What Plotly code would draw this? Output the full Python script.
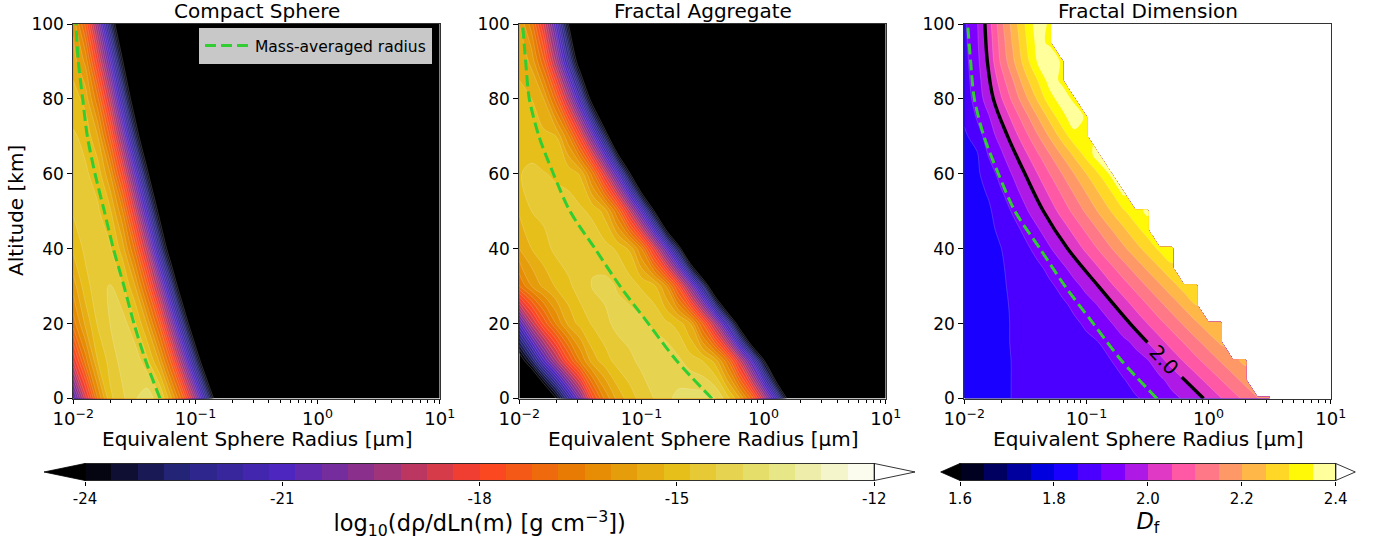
import numpy as np
import plotly.graph_objects as go

ALTITUDE_10 = [0, 10, 20, 30, 40, 50, 60, 70, 80, 90, 100]
ALTITUDE_5 = [0, 5, 10, 15, 20, 25, 30, 35, 40, 45, 50, 55, 60, 65, 70, 75, 80, 85, 90, 95, 100]

RADIUS_COMPACT = [0.01, 0.01259, 0.01585, 0.01995, 0.02512, 0.03162, 0.03981, 0.05012, 0.0631, 0.07943,
                  0.1, 0.1259, 0.1585, 0.1995, 0.3162, 10.0]
RADIUS_FRACTAL = [0.01, 0.01259, 0.01585, 0.01995, 0.02512, 0.03162, 0.03981, 0.05012, 0.0631, 0.07943,
                  0.1, 0.1259, 0.1585, 0.1995, 0.2512, 0.3162, 0.3981, 0.5012, 0.631, 0.7943,
                  1.0, 1.259, 1.585, 1.995, 2.512, 3.162, 10.0]
RADIUS_DF = RADIUS_FRACTAL[:-1]

COMPACT_Z = [
    [-21.0, -18.6, -16.4, -14.9, -14.5, -14.05, -13.75, -14.2, -15.5, -17.1, -19.5, -22.4, -25.7, -29, -36, -60],
    [-18.4, -16.6, -15.2, -14.65, -14.25, -14.1, -14.65, -15.6, -17.3, -19.8, -22.7, -26, -29.5, -33, -40, -60],
    [-16.6, -15.5, -14.75, -14.4, -14.2, -14.7, -15.6, -17.2, -19.7, -22.6, -25.9, -29.3, -32.8, -36, -42, -60],
    [-15.8, -14.95, -14.55, -14.37, -14.75, -15.5, -17.1, -19.4, -22.3, -25.6, -29, -32.5, -36, -39, -45, -60],
    [-15.1, -14.7, -14.55, -14.75, -15.35, -16.8, -19.0, -22.0, -25.1, -28.6, -32, -35.5, -39, -42, -48, -60],
    [-14.75, -14.6, -14.75, -15.1, -16.3, -18.5, -21.2, -24.3, -28, -31.5, -35, -38.5, -42, -45, -50, -60],
    [-14.65, -14.75, -14.95, -15.95, -17.9, -20.5, -23.5, -26.9, -30.4, -34, -37.5, -41, -44.5, -48, -52, -60],
    [-14.75, -14.9, -15.6, -17.3, -19.8, -22.8, -26, -29.5, -33, -36.5, -40, -43.5, -47, -50, -54, -60],
    [-15.0, -15.35, -16.7, -18.9, -21.8, -25, -28.5, -32, -35.5, -39, -42.5, -46, -49, -52, -56, -60],
    [-15.4, -16.1, -18.2, -20.7, -23.8, -27.3, -30.8, -34.3, -37.8, -41.3, -44.8, -48, -51, -54, -58, -60],
    [-15.7, -17.3, -19.8, -22.7, -25.9, -29.4, -32.9, -36.4, -39.9, -43.4, -46.9, -50, -53, -56, -59, -60],
]

FRACTAL_Z = [
    [-30, -28, -26, -24.1, -22, -20, -17.7, -16.3, -15.5, -15.0, -14.65, -14.4, -14.1, -13.9, -13.8, -13.8, -13.95, -14.6, -15.5, -16.9, -19.0, -21.3, -24.3, -28, -31.5, -35, -60],
    [-24.8, -23, -21, -19.3, -17.7, -16.4, -15.4, -15.0, -14.65, -14.5, -14.3, -14.0, -14.05, -14.3, -14.6, -14.8, -15.3, -16.6, -18.6, -20.9, -23.7, -27.1, -30.6, -34.1, -37.6, -41.1, -60],
    [-21, -19, -17.5, -16.4, -15.5, -15.05, -14.75, -14.5, -14.3, -14.2, -14.3, -14.5, -14.7, -14.95, -15.6, -17.2, -19.2, -21.6, -24.7, -28.2, -31.7, -35.2, -38.7, -42.2, -45.7, -49, -60],
    [-16.8, -16, -15.5, -15.15, -14.9, -14.6, -14.37, -14.3, -14.42, -14.6, -14.85, -15.05, -16.0, -17.7, -19.9, -22.4, -25.7, -29.2, -32.7, -36.2, -39.7, -43.2, -46.7, -50, -52, -54, -60],
    [-15.6, -15.2, -14.95, -14.7, -14.55, -14.5, -14.5, -14.65, -14.85, -15.25, -16.4, -18.3, -20.6, -23.2, -26.7, -30.2, -33.7, -37.2, -40.7, -44.2, -47.7, -50, -52, -54, -56, -57, -60],
    [-15.15, -14.8, -14.7, -14.65, -14.65, -14.72, -14.9, -15.35, -16.7, -18.7, -21, -23.8, -27.3, -30.8, -34.3, -37.8, -41.3, -44.8, -48, -50, -52, -54, -55, -56, -57, -58, -60],
    [-14.82, -14.72, -14.78, -14.85, -14.92, -15.25, -16.6, -18.6, -20.9, -23.7, -27.1, -30.6, -34.1, -37.6, -41.1, -44.6, -48, -50, -52, -54, -55, -56, -57, -58, -59, -59.5, -60],
    [-14.95, -15.0, -15.1, -15.2, -16.3, -18.1, -20.4, -23, -26.4, -29.9, -33.4, -36.9, -40.4, -43.9, -47.4, -50, -52, -54, -55, -56, -57, -58, -58.5, -59, -59.5, -59.7, -60],
    [-15.1, -15.2, -15.6, -17.0, -19.1, -21.6, -24.7, -28.2, -31.7, -35.2, -38.7, -42.2, -45.7, -49, -51, -53, -54.5, -55.5, -56.5, -57.5, -58, -58.5, -59, -59.3, -59.6, -59.8, -60],
    [-15.3, -15.7, -17.1, -19.3, -21.9, -25, -28.5, -32, -35.5, -39, -42.5, -46, -49, -51, -52.5, -54, -55, -56, -57, -57.5, -58, -58.5, -59, -59.3, -59.6, -59.8, -60],
    [-15.6, -16.6, -18.5, -20.9, -23.9, -27.4, -30.9, -34.4, -37.9, -41.4, -44.9, -48, -50, -52, -53.5, -55, -56, -56.5, -57, -57.5, -58, -58.5, -59, -59.3, -59.6, -59.8, -60],
]

# one list per altitude of ALTITUDE_5, ending where the reference's field ends
DF_ROWS = [
    [1.82, 1.825, 1.835, 1.845, 1.851, 1.856, 1.86, 1.865, 1.87, 1.874, 1.878, 1.883, 1.888, 1.892, 1.897, 1.905, 1.921, 1.937, 1.955, 1.983, 2.014, 2.047, 2.08, 2.113, 2.147, 2.18],
    [1.82, 1.825, 1.835, 1.845, 1.851, 1.856, 1.861, 1.866, 1.871, 1.876, 1.882, 1.887, 1.893, 1.898, 1.91, 1.925, 1.94, 1.967, 2.0, 2.033, 2.067, 2.1, 2.133, 2.167],
    [1.82, 1.825, 1.835, 1.845, 1.851, 1.858, 1.864, 1.87, 1.876, 1.881, 1.887, 1.893, 1.899, 1.913, 1.93, 1.945, 1.983, 2.02, 2.053, 2.087, 2.12, 2.153, 2.187, 2.21],
    [1.82, 1.825, 1.835, 1.845, 1.852, 1.859, 1.866, 1.873, 1.879, 1.886, 1.893, 1.9, 1.919, 1.937, 1.96, 2.0, 2.034, 2.069, 2.103, 2.138, 2.172, 2.207],
    [1.825, 1.83, 1.837, 1.845, 1.852, 1.86, 1.869, 1.877, 1.885, 1.894, 1.905, 1.925, 1.946, 1.979, 2.015, 2.05, 2.086, 2.121, 2.157, 2.193, 2.229, 2.24],
    [1.828, 1.833, 1.838, 1.845, 1.853, 1.863, 1.873, 1.883, 1.893, 1.907, 1.93, 1.953, 1.99, 2.026, 2.063, 2.1, 2.137, 2.174, 2.212, 2.25],
    [1.83, 1.835, 1.84, 1.846, 1.855, 1.868, 1.88, 1.893, 1.91, 1.935, 1.964, 2.0, 2.04, 2.077, 2.115, 2.154, 2.192, 2.231, 2.27, 2.29],
    [1.83, 1.836, 1.84, 1.846, 1.86, 1.876, 1.891, 1.912, 1.939, 1.973, 2.011, 2.05, 2.09, 2.13, 2.17, 2.21, 2.25, 2.29],
    [1.83, 1.835, 1.84, 1.849, 1.869, 1.889, 1.915, 1.945, 1.982, 2.021, 2.062, 2.104, 2.146, 2.188, 2.229, 2.27, 2.31, 2.33],
    [1.83, 1.835, 1.84, 1.859, 1.883, 1.911, 1.943, 1.981, 2.022, 2.065, 2.109, 2.152, 2.196, 2.239, 2.283, 2.32],
    [1.83, 1.836, 1.843, 1.874, 1.906, 1.941, 1.98, 2.023, 2.068, 2.114, 2.159, 2.205, 2.25, 2.292, 2.33, 2.36],
    [1.83, 1.835, 1.855, 1.894, 1.93, 1.969, 2.013, 2.06, 2.107, 2.155, 2.202, 2.25, 2.295, 2.36],
    [1.83, 1.84, 1.875, 1.918, 1.955, 2.001, 2.05, 2.1, 2.15, 2.2, 2.25, 2.3, 2.36],
    [1.83, 1.842, 1.904, 1.94, 1.987, 2.039, 2.092, 2.147, 2.203, 2.258, 2.316, 2.38],
    [1.84, 1.873, 1.926, 1.969, 2.026, 2.083, 2.144, 2.206, 2.269, 2.331, 2.34],
    [1.86, 1.902, 1.945, 2.003, 2.066, 2.13, 2.197, 2.263, 2.33, 2.38, 2.34],
    [1.87, 1.92, 1.976, 2.043, 2.114, 2.186, 2.257, 2.329, 2.375, 2.34],
    [1.878, 1.927, 1.992, 2.075, 2.15, 2.233, 2.3, 2.372, 2.34],
    [1.883, 1.933, 2.011, 2.108, 2.192, 2.275, 2.356, 2.39, 2.34],
    [1.887, 1.939, 2.02, 2.12, 2.208, 2.292, 2.367, 2.34],
    [1.89, 1.942, 2.028, 2.133, 2.222, 2.303, 2.38, 2.34],
]

MASS_RADIUS_COMPACT = [0.0513, 0.0392, 0.0314, 0.026, 0.02128, 0.01795, 0.01507, 0.01303, 0.01194, 0.01099, 0.01052]
MASS_RADIUS_FRACTAL = [0.378, 0.195, 0.114, 0.0668, 0.0417, 0.026, 0.01901, 0.01449, 0.01208, 0.01127, 0.01064]
DF2_ALTITUDE = [0, 5.7, None, 15, 20, 30, 40, 50, 60, 70, 80, 90, 100]
DF2_RADIUS = [0.91, 0.604, None, 0.316, 0.228, 0.1253, 0.0703, 0.0445, 0.0314, 0.02265, 0.0173, 0.01545, 0.01476]

X_TICKS = [0.01, 0.1, 1, 10]
X_TICK_TEXT = ["10<sup>\u22122</sup>", "10<sup>\u22121</sup>", "10<sup>0</sup>", "10<sup>1</sup>"]
X_MINOR = [m * d for d in (0.01, 0.1, 1) for m in range(2, 10)]
Y_TICKS = [0, 20, 40, 60, 80, 100]
RHO_TICKS = [-24, -21, -18, -15, -12]
DF_TICKS = [1.6, 1.8, 2.0, 2.2, 2.4]
TITLES = ["Compact Sphere", "Fractal Aggregate", "Fractal Dimension"]
X_TITLE = "Equivalent Sphere Radius [\u03bcm]"
Y_TITLE = "Altitude [km]"

W, H = 1385, 540
FONT = "DejaVu Sans"


def cmrmap(t):
    a = [0, .125, .25, .375, .5, .625, .75, .875, 1]
    r = np.interp(t, a, [0, .15, .3, .6, 1, .9, .9, .9, 1])
    g = np.interp(t, a, [0, .15, .15, .2, .25, .5, .75, .9, 1])
    b = np.interp(t, a, [0, .5, .75, .5, .15, 0, .1, .5, 1])
    return r, g, b


def gnuplot2(t):
    r = np.clip(t / 0.32 - 0.78125, 0, 1)
    g = np.clip(2 * t - 0.84, 0, 1)
    b = 4 * t if t < .25 else (1 if t < .42 else (-2 * t + 1.84 if t < .92 else t / 0.08 - 11.5))
    return r, g, float(np.clip(b, 0, 1))


def css(c):
    return "rgb(%d,%d,%d)" % tuple(int(round(255 * v)) for v in c)


def band_colors(cmap, n):
    return [css(cmap((k + .5) / n)) for k in range(n)]


def stops(colors):
    n = len(colors) - 1
    return [[k / n, c] for k, c in enumerate(colors)]


rho_bands = band_colors(cmrmap, 30)
df_bands = band_colors(gnuplot2, 16)
rho_scale = stops(["#000000"] + rho_bands + ["#ffffff"])
df_scale = stops(["#000000"] + df_bands + ["#ffffff"])

seam = dict(width=0.6, color="rgba(255,255,255,0.3)", smoothing=1)
df_seam = dict(width=0.5, color="rgba(255,255,255,0.35)", smoothing=1)
fig = go.Figure()

rho_contours = dict(start=-24, end=-12, size=0.4, coloring="fill", showlines=True)
df_contours = dict(start=1.6, end=2.4, size=0.05, coloring="fill", showlines=True)

fig.add_trace(go.Contour(x=RADIUS_COMPACT, y=ALTITUDE_10, z=COMPACT_Z, autocontour=False, contours=rho_contours,
                         colorscale=rho_scale, showscale=False, line=seam, xaxis="x", yaxis="y", hoverinfo="skip"))
fig.add_trace(go.Contour(x=RADIUS_FRACTAL, y=ALTITUDE_10, z=FRACTAL_Z, autocontour=False, contours=rho_contours,
                         colorscale=rho_scale, showscale=False, line=seam, xaxis="x2", yaxis="y2", hoverinfo="skip"))
df_z = [row + [None] * (len(RADIUS_DF) - len(row)) for row in DF_ROWS]
fig.add_trace(go.Contour(x=RADIUS_DF, y=ALTITUDE_5, z=df_z, autocontour=False, contours=df_contours, connectgaps=False,
                         colorscale=df_scale, showscale=False, line=df_seam, xaxis="x3", yaxis="y3", hoverinfo="skip"))

green = dict(color="#32cd32", width=3, dash="11px,5px", shape="spline", smoothing=0.8)
fig.add_trace(go.Scatter(x=MASS_RADIUS_COMPACT, y=ALTITUDE_10, mode="lines", line=green, name="Mass-averaged radius",
                         xaxis="x", yaxis="y", showlegend=True))
fig.add_trace(go.Scatter(x=MASS_RADIUS_FRACTAL, y=ALTITUDE_10, mode="lines", line=green, xaxis="x2", yaxis="y2", showlegend=False))
fig.add_trace(go.Scatter(x=MASS_RADIUS_FRACTAL, y=ALTITUDE_10, mode="lines", line=green, xaxis="x3", yaxis="y3", showlegend=False))
fig.add_trace(go.Scatter(x=DF2_RADIUS, y=DF2_ALTITUDE, mode="lines", xaxis="x3", yaxis="y3", showlegend=False,
                         line=dict(color="black", width=3.4, shape="spline", smoothing=1)))

rho_edges = [-24 + 0.4 * k for k in range(31)]
df_edges = [1.6 + 0.05 * k for k in range(17)]
fig.add_trace(go.Heatmap(x=rho_edges, y=[0, 1], z=[list(range(30))], zmin=0, zmax=29, showscale=False, xaxis="x4", yaxis="y4",
                         colorscale=stops(rho_bands), hoverinfo="skip"))
fig.add_trace(go.Heatmap(x=df_edges, y=[0, 1], z=[list(range(16))], zmin=0, zmax=15, showscale=False, xaxis="x5", yaxis="y5",
                         colorscale=stops(df_bands), hoverinfo="skip"))

PANELS = [(73.3, 439.7), (519.3, 885.7), (964.3, 1330.7)]
TOP, BOTTOM = 24.0, 398.5
CB_TOP, CB_BOTTOM = 463.5, 480.5
CB = [(85.0, 874.3), (960.0, 1335.7)]


def px(x):
    return x / W


def py(y):
    return 1 - y / H


tickfont = dict(family=FONT, size=17, color="black")
xtickfont = dict(family=FONT, size=18, color="black")
titlefont = dict(family=FONT, size=20, color="black")
layout = dict(template="none", width=W, height=H, autosize=False, margin=dict(l=0, r=0, t=0, b=0), paper_bgcolor="white", plot_bgcolor="white",
              font=dict(family=FONT, color="black"))
for i, (x0, x1) in enumerate(PANELS, start=1):
    s = "" if i == 1 else str(i)
    layout["xaxis" + s] = dict(type="log", range=[-2, 1], domain=[px(x0), px(x1)], anchor="y" + s, automargin=False,
                               tickmode="array", tickvals=X_TICKS, ticktext=X_TICK_TEXT, tickfont=xtickfont,
                               ticks="outside", ticklen=4, tickwidth=1, tickcolor="black",
                               minor=dict(tickmode="array", tickvals=X_MINOR, ticks="outside", ticklen=3, tickwidth=0.7, tickcolor="black"),
                               showgrid=False, zeroline=False, showline=True, linecolor="#333333", linewidth=1, mirror=True)
    layout["yaxis" + s] = dict(range=[0, 100], domain=[py(BOTTOM), py(TOP)], anchor="x" + s, automargin=False, tickmode="array", tickvals=Y_TICKS,
                               tickfont=tickfont, ticks="outside", ticklen=5, tickwidth=1, tickcolor="black", showgrid=False,
                               zeroline=False, showline=True, linecolor="#333333", linewidth=1, mirror=True)

cbfont = dict(family=FONT, size=15, color="black")
layout["xaxis4"] = dict(range=[-24, -12], domain=[px(CB[0][0]), px(CB[0][1])], anchor="y4", automargin=False, tickmode="array", tickvals=RHO_TICKS,
                        ticktext=[str(v) for v in RHO_TICKS], tickfont=cbfont, ticks="outside", ticklen=4, tickcolor="black", showgrid=False, zeroline=False,
                        title=dict(text="log<sub>10</sub>(d\u03c1/dLn(m) [g cm<sup>\u22123</sup>])", font=dict(family=FONT, size=22.5, color="black"), standoff=5))
layout["yaxis4"] = dict(range=[0, 1], domain=[py(CB_BOTTOM), py(CB_TOP)], anchor="x4", visible=False, automargin=False)
layout["xaxis5"] = dict(range=[1.6, 2.4], domain=[px(CB[1][0]), px(CB[1][1])], anchor="y5", automargin=False, tickmode="array", tickvals=DF_TICKS,
                        ticktext=["%.1f" % v for v in DF_TICKS], tickfont=cbfont, ticks="outside", ticklen=4, tickcolor="black", showgrid=False, zeroline=False,
                        title=dict(text="<i>D</i><sub>f</sub>", font=dict(family=FONT, size=22.5, color="black"), standoff=5))
layout["yaxis5"] = dict(range=[0, 1], domain=[py(CB_BOTTOM), py(CB_TOP)], anchor="x5", visible=False, automargin=False)

annotations = []
for (x0, x1), t in zip(PANELS, TITLES):
    annotations.append(dict(text=t, x=px((x0 + x1) / 2), y=py(11.5), xref="paper", yref="paper", showarrow=False,
                            xanchor="center", yanchor="middle", font=titlefont))
    annotations.append(dict(text=X_TITLE, x=px((x0 + x1) / 2), y=py(439), xref="paper", yref="paper", showarrow=False,
                            xanchor="center", yanchor="middle", font=titlefont))
annotations.append(dict(text=Y_TITLE, x=px(16), y=py(211), xref="paper", yref="paper", showarrow=False, textangle=-90,
                        xanchor="center", yanchor="middle", font=titlefont))
annotations.append(dict(text="2.0", x=px(1164), y=py(360), xref="paper", yref="paper", showarrow=False, textangle=47,
                        xanchor="center", yanchor="middle", font=titlefont))
layout["annotations"] = annotations

shapes = []
for (x0, x1), (t0, t1) in zip(CB, [(44.0, 915.0), (940.7, 1355.3)]):
    ym = (CB_TOP + CB_BOTTOM) / 2
    shapes.append(dict(type="path", xref="paper", yref="paper", fillcolor="black", line=dict(color="black", width=0.8),
                       path="M %f %f L %f %f L %f %f Z" % (px(x0), py(CB_TOP), px(t0), py(ym), px(x0), py(CB_BOTTOM))))
    shapes.append(dict(type="path", xref="paper", yref="paper", fillcolor="white", line=dict(color="black", width=0.8),
                       path="M %f %f L %f %f L %f %f Z" % (px(x1), py(CB_TOP), px(t1), py(ym), px(x1), py(CB_BOTTOM))))
    shapes.append(dict(type="rect", xref="paper", yref="paper", x0=px(x0), x1=px(x1), y0=py(CB_BOTTOM), y1=py(CB_TOP),
                       line=dict(color="black", width=0.8), fillcolor="rgba(0,0,0,0)"))
layout["shapes"] = shapes
layout["legend"] = dict(x=px(432), y=py(28), xanchor="right", yanchor="top", bgcolor="#c8c8c8", bordercolor="#c8c8c8", borderwidth=1,
                        font=dict(family=FONT, size=15.5, color="black"), itemwidth=45)
layout["showlegend"] = True
fig.update_layout(**layout)

fig.write_html("out.html", config=dict(displayModeBar=False),
               post_script="document.body.style.margin='0';document.documentElement.style.overflow='hidden';")
